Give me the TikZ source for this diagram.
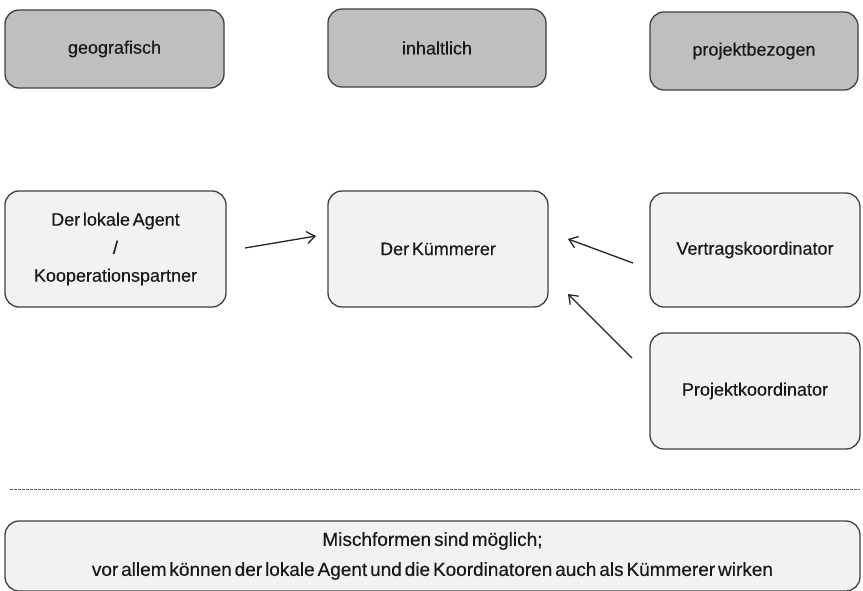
\documentclass[tikz,border=0pt]{standalone}
\usepackage{fontspec}
\setmainfont{Liberation Sans}[WordSpace=0.55, FakeBold=0.35]
\usetikzlibrary{arrows.meta}
\begin{document}
\begin{tikzpicture}[x=1pt,y=-1pt,
  boxbase/.style={draw=black!75, line width=1.3pt, rounded corners=14pt, align=center, inner sep=0pt, text=black!90, font=\fontsize{18}{28}\selectfont},
  topbox/.style={boxbase, fill=black!25},
  midbox/.style={boxbase, fill=black!5},
  conn/.style={-{Straight Barb[length=8pt,width=12pt]}, line width=1.3pt, black!85}]
\useasboundingbox (0,0) rectangle (863,590);
\fill[white] (0,0) rectangle (863,590);
\node[topbox, minimum width=219pt, minimum height=78pt] (geo) at (114.5,49) {geografisch};
\node[topbox, minimum width=218pt, minimum height=78pt] (inh) at (437,48) {inhaltlich};
\node[topbox, minimum width=208pt, minimum height=78pt] (proj) at (754,51) {projektbezogen};
\node[midbox, minimum width=221pt, minimum height=116pt] (agent) at (115.5,249) {Der lokale Agent\\/\\Kooperationspartner};
\node[midbox, minimum width=220pt, minimum height=116pt] (kuemm) at (438,249) {Der Kümmerer};
\node[midbox, minimum width=210pt, minimum height=114pt] (vertrag) at (755,250) {Vertragskoordinator};
\node[midbox, minimum width=210pt, minimum height=116pt] (projk) at (755,391) {Projektkoordinator};
\coordinate (a1) at (245,248);
\coordinate (a2) at (316,236);
\coordinate (v1) at (633,263);
\coordinate (v2) at (568,239);
\coordinate (p1) at (632,358);
\coordinate (p2) at (568,294);
\draw[conn] (a1) -- (a2);
\draw[conn] (v1) -- (v2);
\draw[conn] (p1) -- (p2);
\coordinate (d1) at (10,489);
\coordinate (d2) at (860,489);
\draw[black!65, line width=0.9pt, dash pattern=on 2.5pt off 1.5pt] (d1) -- (d2);
\node[midbox, minimum width=855pt, minimum height=70pt, font=\fontsize{19}{30}\selectfont] (misch) at (432.5,556) {Mischformen sind möglich;\\vor allem können der lokale Agent und die Koordinatoren auch als Kümmerer wirken};
\end{tikzpicture}
\end{document}
